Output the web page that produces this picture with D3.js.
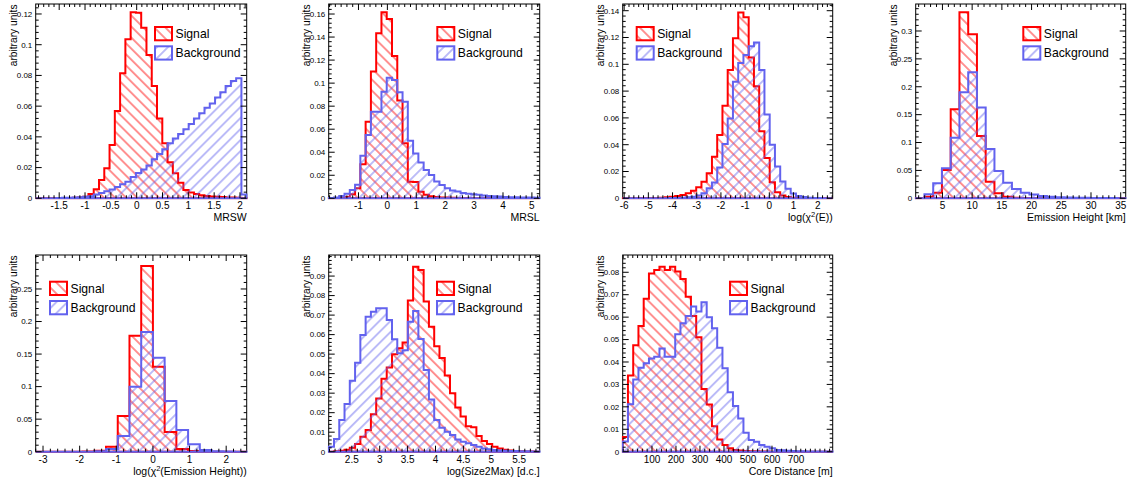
<!DOCTYPE html>
<html>
<head>
<meta charset="utf-8">
<script src="https://cdn.jsdelivr.net/npm/d3@7"></script>
<style>
  html, body { margin: 0; padding: 0; background: #ffffff; }
  svg { display: block; font-family: "Liberation Sans", Arial, Helvetica, sans-serif; }
</style>
</head>
<body>
<svg id="chart" width="1132" height="484"></svg>
<script>
// ---------------------------------------------------------------------------
// Histogram contents (normalised, "arbitrary units"), one value per bin.
// ---------------------------------------------------------------------------

// MRSW: 40 bins
const mrswRange = [-1.955, 2.13];
const mrswSignal = [0, 0, 0, 0, 0.0001, 0.0001, 0.0002, 0.0003, 0.0005, 0.001,
  0.0028, 0.0059, 0.0119, 0.0195, 0.0347, 0.0568, 0.0814, 0.1035, 0.1211, 0.1208,
  0.111, 0.0933, 0.0731, 0.052, 0.0358, 0.0234, 0.0163, 0.0102, 0.0054, 0.0037,
  0.0028, 0.002, 0.0015, 0.0012, 0.001, 0.0008, 0.0006, 0.0005, 0.0004, 0.0002];
const mrswBackground = [0, 0, 0, 0.0001, 0.0002, 0.0003, 0.0004, 0.0005, 0.0007, 0.001,
  0.0013, 0.0024, 0.0035, 0.0046, 0.0057, 0.0074, 0.0092, 0.0107, 0.0139, 0.0165,
  0.0187, 0.0214, 0.0254, 0.0288, 0.0319, 0.0358, 0.039, 0.0419, 0.0449, 0.0483,
  0.052, 0.0553, 0.059, 0.0618, 0.0657, 0.069, 0.0731, 0.0764, 0.0781, 0.0025];
const mrswXTicks = [-1.5, -1, -0.5, 0, 0.5, 1, 1.5, 2];
const mrswYTicks = [0, 0.02, 0.04, 0.06, 0.08, 0.1, 0.12];

// MRSL: 40 bins
const mrslRange = [-2.03, 5.27];
const mrslSignal = [0.0002, 0.0003, 0.0006, 0.0012, 0.0035, 0.0087, 0.0295, 0.0665, 0.11, 0.1432,
  0.1615, 0.1557, 0.1235, 0.085, 0.0477, 0.0144, 0.0142, 0.0057, 0.003, 0.0018,
  0.0012, 0.0008, 0.0006, 0.0004, 0.0003, 0.0002, 0.0002, 0.0001, 0.0001, 0.0001,
  0.0001, 0.0001, 0, 0, 0, 0, 0, 0, 0, 0];
const mrslBackground = [0.0003, 0.0008, 0.002, 0.004, 0.0072, 0.0118, 0.037, 0.055, 0.0752, 0.0752,
  0.0925, 0.1047, 0.1027, 0.092, 0.0839, 0.05, 0.039, 0.031, 0.0246, 0.0203,
  0.0145, 0.0116, 0.0087, 0.0067, 0.0058, 0.0046, 0.004, 0.0035, 0.003, 0.0025,
  0.002, 0.0018, 0.0015, 0.0012, 0.001, 0.0009, 0.0008, 0.0007, 0.0006, 0.0005];
const mrslXTicks = [-1, 0, 1, 2, 3, 4, 5];
const mrslYTicks = [0, 0.02, 0.04, 0.06, 0.08, 0.1, 0.12, 0.14, 0.16];

// log(chi2(E)): 40 bins
const chi2ERange = [-6.06, 2.62];
const chi2ESignal = [0.0001, 0.0001, 0.0001, 0.0002, 0.0002, 0.0003, 0.0003, 0.0005, 0.0008, 0.0012,
  0.0018, 0.0025, 0.0037, 0.0057, 0.0082, 0.0124, 0.0187, 0.031, 0.0472, 0.069,
  0.0957, 0.1195, 0.1387, 0.1351, 0.105, 0.0836, 0.05, 0.03, 0.012, 0.0045,
  0.002, 0.001, 0.0005, 0.0002, 0.0001, 0, 0, 0, 0, 0];
const chi2EBackground = [0, 0, 0, 0, 0, 0, 0, 0, 0.0001, 0.0002,
  0.0003, 0.0005, 0.0008, 0.0012, 0.002, 0.0037, 0.0075, 0.0118, 0.023, 0.0405,
  0.0595, 0.087, 0.101, 0.107, 0.1135, 0.1163, 0.0957, 0.0625, 0.04, 0.0237,
  0.0125, 0.0072, 0.0035, 0.0018, 0.001, 0.0005, 0.0003, 0.0002, 0.0001, 0];
const chi2EXTicks = [-6, -5, -4, -3, -2, -1, 0, 1, 2];
const chi2EYTicks = [0, 0.02, 0.04, 0.06, 0.08, 0.1, 0.12, 0.14];

// Emission height [km]: 24 bins
const emHeightRange = [0.5, 35.84];
const emHeightSignal = [0.0003, 0.003, 0.01, 0.0507, 0.1596, 0.3335, 0.294, 0.1117, 0.0298, 0.009,
  0.003, 0.0012, 0.0006, 0.0003, 0.0002, 0.0002, 0.0001, 0.0001, 0.0001, 0,
  0, 0, 0, 0];
const emHeightBackground = [0.0003, 0.0072, 0.0269, 0.0538, 0.1087, 0.19, 0.226, 0.163, 0.0884, 0.049,
  0.028, 0.0167, 0.01, 0.007, 0.004, 0.003, 0.002, 0.0015, 0.001, 0.0008,
  0.0006, 0.0005, 0.0004, 0.0003];
const emHeightXTicks = [5, 10, 15, 20, 25, 30, 35];
const emHeightYTicks = [0, 0.05, 0.1, 0.15, 0.2, 0.25, 0.3];

// log(chi2(Emission Height)): 18 bins
const chi2HRange = [-3.2, 2.56];
const chi2HSignal = [0, 0, 0, 0, 0.0002, 0.0015, 0.0077, 0.0548, 0.1782, 0.2853,
  0.1306, 0.0302, 0.0041, 0.001, 0.0003, 0.0001, 0, 0];
const chi2HBackground = [0, 0, 0, 0, 0.0001, 0.0008, 0.004, 0.0241, 0.0999, 0.1839,
  0.1445, 0.0779, 0.0333, 0.0113, 0.0026, 0.0008, 0.0003, 0.0001];
const chi2HXTicks = [-3, -2, -1, 0, 1, 2];
const chi2HYTicks = [0, 0.05, 0.1, 0.15, 0.2, 0.25];

// log(Size2Max) [d.c.]: 40 bins
const sizeRange = [2.086, 5.867];
const sizeSignal = [0, 0.0002, 0.0005, 0.001, 0.002, 0.004, 0.0077, 0.0111, 0.0192, 0.0273,
  0.0374, 0.0432, 0.0499, 0.053, 0.056, 0.0775, 0.0948, 0.0931, 0.077, 0.064,
  0.054, 0.048, 0.039, 0.03, 0.0226, 0.018, 0.013, 0.0125, 0.008, 0.0055,
  0.004, 0.0025, 0.0016, 0.001, 0.0006, 0.0004, 0.0002, 0.0001, 0.0001, 0];
const sizeBackground = [0.0026, 0.0065, 0.0162, 0.0244, 0.0364, 0.0456, 0.0598, 0.0692, 0.0717, 0.0735,
  0.0735, 0.0675, 0.0576, 0.0504, 0.052, 0.0666, 0.0721, 0.0577, 0.0419, 0.0268,
  0.0162, 0.0123, 0.0102, 0.0085, 0.0063, 0.0051, 0.0043, 0.0034, 0.0026, 0.0017,
  0.0012, 0.0009, 0.0006, 0.0005, 0.0004, 0.0003, 0.0002, 0.0002, 0.0001, 0.0001];
const sizeXTicks = [2.5, 3, 3.5, 4, 4.5, 5, 5.5];
const sizeYTicks = [0, 0.01, 0.02, 0.03, 0.04, 0.05, 0.06, 0.07, 0.08, 0.09];

// Core distance [m]: 40 bins
const coreRange = [-22, 853];
const coreSignal = [0.0065, 0.034, 0.0475, 0.056, 0.0682, 0.0795, 0.081, 0.0825, 0.081, 0.0825,
  0.0803, 0.077, 0.0691, 0.0605, 0.051, 0.028, 0.021, 0.0113, 0.0054, 0.003,
  0.0015, 0.0008, 0.0005, 0.0003, 0.0002, 0.0002, 0.0001, 0.0001, 0, 0,
  0, 0, 0, 0, 0, 0, 0, 0, 0, 0];
const coreBackground = [0.0045, 0.0212, 0.0322, 0.0374, 0.0394, 0.0416, 0.0423, 0.046, 0.0423, 0.0423,
  0.0524, 0.0573, 0.0605, 0.0647, 0.0625, 0.0666, 0.06, 0.055, 0.0464, 0.0372,
  0.0265, 0.0204, 0.0148, 0.0084, 0.0052, 0.0044, 0.003, 0.0022, 0.0015, 0.0008,
  0.0006, 0.0004, 0.0003, 0.0002, 0.0002, 0.0001, 0.0001, 0.0001, 0.0001, 0.0001];
const coreXTicks = [100, 200, 300, 400, 500, 600, 700];
const coreYTicks = [0, 0.01, 0.02, 0.03, 0.04, 0.05, 0.06, 0.07, 0.08];

const seriesNames = ["Signal", "Background"];
const yAxisTitle = "arbitrary units";

// ---------------------------------------------------------------------------
// Pad layout and styling
// ---------------------------------------------------------------------------
const RED = "#ff0000";
const BLUE = "#6262ee";

const panels = [
  { frame: [35.7, 4, 211, 194.3], yMax: 0.1265, xMinor: 0.1, yMinor: 0.004, legend: [155, 27],
    range: mrswRange, signal: mrswSignal, background: mrswBackground, xTicks: mrswXTicks, yTicks: mrswYTicks,
    title: [{ t: "MRSW" }] },
  { frame: [328.7, 4, 211, 194.3], yMax: 0.1687, xMinor: 0.2, yMinor: 0.004, legend: [437.3, 27],
    range: mrslRange, signal: mrslSignal, background: mrslBackground, xTicks: mrslXTicks, yTicks: mrslYTicks,
    title: [{ t: "MRSL" }] },
  { frame: [622.7, 4, 210, 194.3], yMax: 0.145, xMinor: 0.2, yMinor: 0.004, legend: [636.7, 27],
    range: chi2ERange, signal: chi2ESignal, background: chi2EBackground, xTicks: chi2EXTicks, yTicks: chi2EYTicks,
    title: [{ t: "log(\u03C7" }, { t: "2", sup: true }, { t: "(E))" }] },
  { frame: [915.7, 4, 210, 194.3], yMax: 0.3484, xMinor: 1, yMinor: 0.01, legend: [1023.3, 27],
    range: emHeightRange, signal: emHeightSignal, background: emHeightBackground, xTicks: emHeightXTicks, yTicks: emHeightYTicks,
    title: [{ t: "Emission Height [km]" }] },
  { frame: [35.7, 255, 211, 196.7], yMax: 0.3022, xMinor: 0.2, yMinor: 0.01, legend: [50, 281.7],
    range: chi2HRange, signal: chi2HSignal, background: chi2HBackground, xTicks: chi2HXTicks, yTicks: chi2HYTicks,
    title: [{ t: "log(\u03C7" }, { t: "2", sup: true }, { t: "(Emission Height))" }] },
  { frame: [328.7, 255, 211, 196.7], yMax: 0.1008, xMinor: 0.1, yMinor: 0.002, legend: [437, 281.7],
    range: sizeRange, signal: sizeSignal, background: sizeBackground, xTicks: sizeXTicks, yTicks: sizeYTicks,
    title: [{ t: "log(Size2Max) [d.c.]" }] },
  { frame: [622.7, 255, 210, 196.7], yMax: 0.0877, xMinor: 20, yMinor: 0.002, legend: [730, 281.7],
    range: coreRange, signal: coreSignal, background: coreBackground, xTicks: coreXTicks, yTicks: coreYTicks,
    title: [{ t: "Core Distance [m]" }] }
];

const svg = d3.select("#chart");
const defs = svg.append("defs");

// Diagonal hatch fills: "\" for signal, "/" for background
function addHatch(id, color, angle) {
  const gap = 7.8;
  const p = defs.append("pattern")
    .attr("id", id)
    .attr("patternUnits", "userSpaceOnUse")
    .attr("width", gap).attr("height", gap)
    .attr("patternTransform", `rotate(${angle})`);
  p.append("line")
    .attr("x1", gap / 2).attr("y1", -1)
    .attr("x2", gap / 2).attr("y2", gap + 1)
    .attr("stroke", color).attr("stroke-width", 0.85);
}
addHatch("hatch-signal", RED, -45);
addHatch("hatch-background", BLUE, 45);

const styles = [
  { key: "signal", name: seriesNames[0], color: RED, fill: "url(#hatch-signal)" },
  { key: "background", name: seriesNames[1], color: BLUE, fill: "url(#hatch-background)" }
];

function minorValues(domain, step, majors) {
  const out = [];
  const k0 = Math.ceil(domain[0] / step - 1e-6);
  const k1 = Math.floor(domain[1] / step + 1e-6);
  for (let k = k0; k <= k1; k++) {
    const v = k * step;
    if (!majors.some(m => Math.abs(m - v) < step * 1e-3)) out.push(v);
  }
  return out;
}

panels.forEach((p, i) => {
  const [fx, fy, fw, fh] = p.frame;
  const x = d3.scaleLinear().domain(p.range).range([fx, fx + fw]);
  const y = d3.scaleLinear().domain([0, p.yMax]).range([fy + fh, fy]);
  const g = svg.append("g").attr("class", "pad");

  const clipId = "pad-clip-" + i;
  defs.append("clipPath").attr("id", clipId)
    .append("rect")
    .attr("x", fx - 1).attr("y", fy)
    .attr("width", fw + 2).attr("height", fh + 1.2);

  // frame
  g.append("rect")
    .attr("x", fx).attr("y", fy).attr("width", fw).attr("height", fh)
    .attr("fill", "none").attr("stroke", "#000").attr("stroke-width", 1);

  // histograms
  const area = d3.area()
    .x(d => x(d[0]))
    .y0(y(0))
    .y1(d => y(d[1]))
    .curve(d3.curveStepAfter);

  styles.forEach(s => {
    const vals = p[s.key];
    const n = vals.length;
    const width = (p.range[1] - p.range[0]) / n;
    const pts = vals.map((v, k) => [p.range[0] + k * width, v]);
    pts.push([p.range[1], vals[n - 1]]);
    g.append("path")
      .attr("d", area(pts))
      .attr("fill", s.fill)
      .attr("stroke", s.color)
      .attr("stroke-width", 2)
      .attr("stroke-linejoin", "miter")
      .attr("clip-path", `url(#${clipId})`);
  });

  // tick marks on all four sides, pointing inwards
  const ticks = g.append("g").attr("stroke", "#000").attr("stroke-width", 1);
  const xMaj = p.xTicks, xMin = minorValues(p.range, p.xMinor, p.xTicks);
  const yMaj = p.yTicks, yMin = minorValues([0, p.yMax], p.yMinor, p.yTicks);
  const drawX = (vals, len) => vals.forEach(v => {
    const px = x(v);
    ticks.append("line").attr("x1", px).attr("x2", px).attr("y1", fy + fh).attr("y2", fy + fh - len);
    ticks.append("line").attr("x1", px).attr("x2", px).attr("y1", fy).attr("y2", fy + len);
  });
  const drawY = (vals, len) => vals.forEach(v => {
    const py = y(v);
    ticks.append("line").attr("y1", py).attr("y2", py).attr("x1", fx).attr("x2", fx + len);
    ticks.append("line").attr("y1", py).attr("y2", py).attr("x1", fx + fw).attr("x2", fx + fw - len);
  });
  drawX(xMaj, 6); drawX(xMin, 3);
  drawY(yMaj, 6); drawY(yMin, 3);

  // tick labels
  g.append("g").selectAll("text").data(xMaj).join("text")
    .attr("x", d => x(d)).attr("y", fy + fh + 10.8)
    .attr("text-anchor", "middle")
    .attr("font-size", 10).attr("fill", "#000")
    .text(d => String(d));
  g.append("g").selectAll("text").data(yMaj).join("text")
    .attr("x", fx - 3.4).attr("y", d => y(d))
    .attr("dy", "0.35em")
    .attr("text-anchor", "end")
    .attr("font-size", 8).attr("fill", "#000")
    .text(d => String(d));

  // axis titles
  const xt = g.append("text")
    .attr("x", fx + fw).attr("y", fy + fh + 23)
    .attr("text-anchor", "end")
    .attr("font-size", 10.5).attr("fill", "#000");
  p.title.forEach(seg => {
    if (seg.sup) {
      xt.append("tspan").attr("dy", -4).attr("font-size", 7.5).text(seg.t);
    } else {
      const ts = xt.append("tspan").text(seg.t);
      if (xt.selectAll("tspan").size() > 1) ts.attr("dy", 4);
    }
  });
  g.append("text")
    .attr("transform", `translate(${fx - 22.4},${fy + 0.5}) rotate(-90)`)
    .attr("text-anchor", "end")
    .attr("dy", "0.35em")
    .attr("font-size", 10.2).attr("fill", "#000")
    .text(yAxisTitle);

  // legend
  const [lx, ly] = p.legend;
  styles.forEach((s, j) => {
    const by = ly + j * 19.3;
    g.append("rect")
      .attr("x", lx).attr("y", by).attr("width", 17).attr("height", 13.3)
      .attr("fill", s.fill).attr("stroke", s.color).attr("stroke-width", 2);
    g.append("text")
      .attr("x", lx + 20.5).attr("y", by + 6.65)
      .attr("dy", "0.36em")
      .attr("font-size", 12.2).attr("fill", "#000")
      .text(s.name);
  });
});
</script>
</body>
</html>
